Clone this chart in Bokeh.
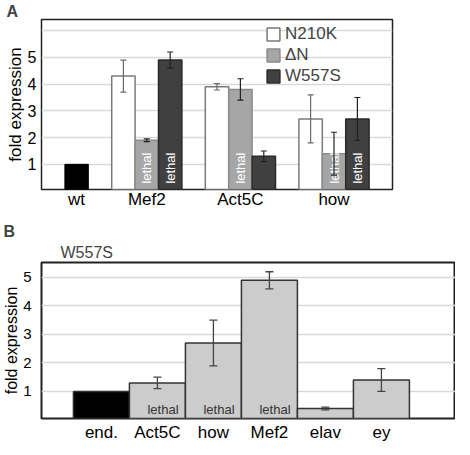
import math
from bokeh.plotting import figure
from bokeh.layouts import column
from bokeh.models import (ColumnDataSource, FixedTicker, Legend, LegendItem,
                          Whisker, TeeHead, Range1d, Title)
from bokeh.core.properties import value
from bokeh.embed import file_html
from bokeh.resources import INLINE

# ---------------- data: panel A ----------------
groups_a = ["Mef2", "Act5C", "how"]
control_a = "wt"
control_a_value = 1.0
series_a = ["N210K", "\u0394N", "W557S"]
n210k_vals = [4.3, 3.9, 2.7]
n210k_err = [0.6, 0.12, 0.9]
dn_vals = [1.9, 3.8, 1.4]
dn_err = [0.05, 0.4, 0.8]
w557s_vals = [4.9, 1.3, 2.7]
w557s_err = [0.3, 0.2, 0.8]
n210k_lethal = [False, False, False]
dn_lethal = [True, True, True]
w557s_lethal = [True, False, True]
yticks_a = [1, 2, 3, 4, 5]

# ---------------- data: panel B ----------------
title_b = "W557S"
genes_b = ["end.", "Act5C", "how", "Mef2", "elav", "ey"]
vals_b = [1.0, 1.3, 2.7, 4.9, 0.4, 1.4]
err_b = [0.0, 0.2, 0.8, 0.3, 0.05, 0.4]
lethal_b = [False, True, True, True, False, False]
yticks_b = [1, 2, 3, 4, 5]

FONT = "Liberation Sans"

# ================= Panel A =================
FA_W, FA_H = 351, 170
pA = figure(output_backend="svg", toolbar_location=None,
            frame_width=FA_W, frame_height=FA_H,
            x_range=Range1d(0, 15), y_range=Range1d(0.06, 0.06 + FA_H / 26.75),
            min_border_left=37, min_border_right=58, min_border_top=16,
            min_border_bottom=0)
pA.title.text = "A"
pA.title.align = "left"
pA.title.offset = -35
pA.title.standoff = 0
pA.title.text_font = FONT
pA.title.text_font_size = "16px"
pA.title.text_font_style = "bold"

wt_x = 1.5
centers = [wt_x + 3 + 4 * i for i in range(len(groups_a))]

pA.vbar(x=[wt_x], top=[control_a_value], width=1, bottom=0,
        fill_color="black", line_color="black")

styles = [("white", "#7a7a7a", "#6a6a6a"), ("#a6a6a6", "#8a8a8a", "#222222"),
          ("#404040", "#2a2a2a", "#222222")]
all_vals = [n210k_vals, dn_vals, w557s_vals]
all_errs = [n210k_err, dn_err, w557s_err]
all_leth = [n210k_lethal, dn_lethal, w557s_lethal]
legend_items = []
for k, (name, vals, errs, leth) in enumerate(zip(series_a, all_vals, all_errs, all_leth)):
    fc, lc, ec = styles[k]
    xs = [c + (k - 1) for c in centers]
    src = ColumnDataSource(dict(x=xs, top=vals,
                                up=[v + e for v, e in zip(vals, errs)],
                                lo=[v - e for v, e in zip(vals, errs)]))
    r = pA.vbar(x="x", top="top", width=1, bottom=0, source=src,
                fill_color=fc, line_color=lc, line_width=1.5)
    legend_items.append(LegendItem(label=name, renderers=[r]))
    wh = Whisker(base="x", upper="up", lower="lo", source=src, line_color=ec, line_width=1.2,
                 level="annotation",
                 upper_head=TeeHead(size=6, line_color=ec, line_width=1.2),
                 lower_head=TeeHead(size=6, line_color=ec, line_width=1.2))
    pA.add_layout(wh)
    lx = [x for x, l in zip(xs, leth) if l]
    if lx:
        pA.text(x=lx, y=[0.28] * len(lx), text=["lethal"] * len(lx), angle=math.pi / 2,
                text_align="left", text_baseline="middle", text_color="white",
                text_font=value(FONT), text_font_size="13px")

legend = Legend(items=legend_items, location=(224, FA_H - 67), orientation="vertical",
                glyph_width=16, glyph_height=16, label_standoff=4, spacing=1,
                padding=0, margin=0, border_line_color=None, background_fill_alpha=0,
                label_text_font=FONT, label_text_font_size="17px", label_height=18)
pA.add_layout(legend, "center")

pA.xaxis.ticker = FixedTicker(ticks=[wt_x] + centers)
pA.xaxis.major_label_overrides = {wt_x: control_a, **{c: g for c, g in zip(centers, groups_a)}}
pA.yaxis.ticker = FixedTicker(ticks=yticks_a + [6])
pA.yaxis.major_label_overrides = {6: ""}
pA.yaxis.axis_label = "fold expression"

# ================= Panel B =================
FB_W, FB_H = 414, 156
pB = figure(output_backend="svg", toolbar_location=None,
            frame_width=FB_W, frame_height=FB_H,
            x_range=Range1d(-1.07, -1.07 + FB_W / 56), y_range=Range1d(0.05, 0.05 + FB_H / 28.5),
            min_border_left=40, min_border_right=0, min_border_top=51,
            min_border_bottom=0)
pB.title.text = "B"
pB.title.align = "left"
pB.title.offset = -38
pB.title.standoff = 2
pB.title.text_font = FONT
pB.title.text_font_size = "16px"
pB.title.text_font_style = "bold"
pB.add_layout(Title(text=title_b, align="left", offset=19, standoff=3, text_font=FONT,
                    text_font_size="16px", text_font_style="normal"), "above")

xb = list(range(len(genes_b)))
fills = ["black" if i == 0 else "#cccccc" for i in xb]
srcB = ColumnDataSource(dict(x=xb, top=vals_b, fc=fills,
                             up=[v + e for v, e in zip(vals_b, err_b)],
                             lo=[v - e for v, e in zip(vals_b, err_b)]))
pB.vbar(x="x", top="top", width=1, bottom=0, source=srcB, fill_color="fc",
        line_color="#333333", line_width=1.5)
srcBe = ColumnDataSource(dict(x=xb[1:], up=srcB.data["up"][1:], lo=srcB.data["lo"][1:]))
pB.add_layout(Whisker(base="x", upper="up", lower="lo", source=srcBe, line_color="#444444",
                      line_width=1.3, level="annotation",
                      upper_head=TeeHead(size=8, line_color="#444444", line_width=1.3),
                      lower_head=TeeHead(size=8, line_color="#444444", line_width=1.3)))
lxb = [x + 0.1 for x, l in zip(xb, lethal_b) if l]
pB.text(x=lxb, y=[0.37] * len(lxb), text=["lethal"] * len(lxb), text_align="center",
        text_baseline="middle", text_color="#333333", text_font=value(FONT),
        text_font_size="13px")

pB.xaxis.ticker = FixedTicker(ticks=xb)
pB.xaxis.major_label_overrides = {i: g for i, g in zip(xb, genes_b)}
pB.yaxis.ticker = FixedTicker(ticks=yticks_b)
pB.yaxis.axis_label = "fold expression"

# ------------- common styling -------------
for p in (pA, pB):
    isA = p is pA
    p.outline_line_color = "#222222"
    p.outline_line_width = 1.5 if isA else 2
    p.xgrid.grid_line_color = None
    p.ygrid.grid_line_color = "#d9d9d9"
    p.ygrid.grid_line_width = 1.5
    for ax in (p.xaxis[0], p.yaxis[0]):
        ax.axis_line_color = None
        ax.major_tick_line_color = None
        ax.minor_tick_line_color = None
        ax.major_tick_out = 0
        ax.major_tick_in = 0
        ax.minor_tick_out = 0
        ax.minor_tick_in = 0
        ax.major_label_text_font = FONT
        ax.major_label_text_color = "black"
        ax.axis_label_text_font = FONT
        ax.axis_label_text_font_style = "normal"
        ax.axis_label_text_font_size = "17px" if isA else "16px"
        ax.axis_label_text_color = "black"
    p.xaxis.major_label_text_font_size = "17px"
    p.xaxis.major_label_standoff = 0 if isA else 4
    p.yaxis.major_label_text_font_size = "16px" if isA else "15px"
    p.yaxis.major_label_standoff = 5 if isA else 10
    p.yaxis.axis_label_standoff = 0

layout = column(pA, pB, spacing=0)
open("out.html", "w").write(file_html(layout, INLINE))
